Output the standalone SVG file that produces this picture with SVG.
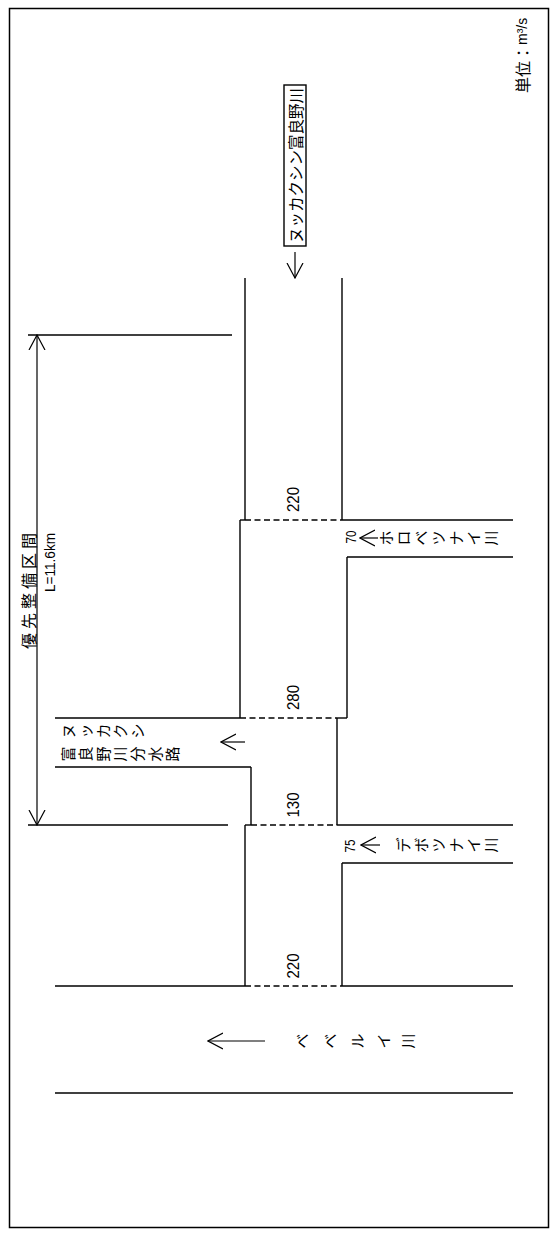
<svg xmlns="http://www.w3.org/2000/svg" width="558" height="1236" viewBox="0 0 558 1236">
<style>
.ln{stroke:#000;stroke-width:1.4;fill:none}
.ds{stroke:#000;stroke-width:1.4;fill:none;stroke-dasharray:6 3.5}
.ar{stroke:#000;stroke-width:1.2;fill:none}
.j{font-family:"Noto Sans CJK JP","Noto Sans CJK SC",sans-serif;font-size:15px;fill:#000;text-anchor:middle;dominant-baseline:central}
.n{font-family:"Liberation Sans",Arial,sans-serif;fill:#000;text-anchor:middle;dominant-baseline:central}
</style>
<defs>
<marker id="ah" viewBox="0 0 16 18" refX="15" refY="9" markerWidth="16" markerHeight="18" markerUnits="userSpaceOnUse" orient="auto-start-reverse">
<path d="M0,1 L15,9 L0,17" fill="none" stroke="#000" stroke-width="1.2"/>
</marker>
</defs>
<rect x="9.5" y="8.5" width="539" height="1219" fill="#fff" stroke="#000" stroke-width="1.5"/>

<g id="unit">
<text class="j" style="font-size:16px;text-anchor:start" transform="translate(522,93) rotate(-90)">単位：<tspan style="font-family:'Liberation Sans',Arial,sans-serif;font-size:14px">m³/s</tspan></text>
</g>

<g id="title-box">
<rect x="284" y="85" width="22" height="161" class="ln"/>
<text class="j" style="font-size:15.5px" transform="translate(295,165.5) rotate(-90)" textLength="155" lengthAdjust="spacing">ヌッカクシン富良野川</text>
</g>

<g id="section-dimension">
<line x1="28" y1="335" x2="232" y2="335" class="ln"/>
<line x1="28" y1="825" x2="228" y2="825" class="ln"/>
<text class="j" style="font-size:16px;text-anchor:end" transform="translate(28,533) rotate(-90)" textLength="116" lengthAdjust="spacing">優先整備区間</text>
<text class="n" style="font-size:14px;text-anchor:end" transform="translate(50,533) rotate(-90)" textLength="59" lengthAdjust="spacingAndGlyphs">L=11.6km</text>
</g>

<g id="seg-upper-220">
<line x1="245" y1="278" x2="245" y2="520" class="ln"/>
<line x1="342" y1="278" x2="342" y2="520" class="ln"/>
<text class="n" style="font-size:17px" transform="translate(293.5,499.5) rotate(-90)" textLength="25" lengthAdjust="spacingAndGlyphs">220</text>
</g>

<g id="trib-horobetsunai">
<line x1="342" y1="520" x2="513" y2="520" class="ln"/>
<line x1="347" y1="557" x2="513" y2="557" class="ln"/>
<text class="n" style="font-size:14px" transform="translate(350.5,537) rotate(-90)" textLength="13" lengthAdjust="spacingAndGlyphs">70</text>
<text class="j" transform="translate(385,538) rotate(-90)">ホ</text>
<text class="j" transform="translate(402.5,538) rotate(-90)">ロ</text>
<text class="j" transform="translate(420,538) rotate(-90)">ベ</text>
<text class="j" transform="translate(437.5,538) rotate(-90)">ツ</text>
<text class="j" transform="translate(455,538) rotate(-90)">ナ</text>
<text class="j" transform="translate(472.5,538) rotate(-90)">イ</text>
<text class="j" transform="translate(490,538) rotate(-90)">川</text>
</g>

<g id="seg-280">
<line x1="240" y1="520" x2="245" y2="520" class="ln"/>
<line x1="240" y1="520" x2="240" y2="718" class="ln"/>
<line x1="347" y1="557" x2="347" y2="718" class="ln"/>
<text class="n" style="font-size:17px" transform="translate(293.5,697.5) rotate(-90)" textLength="25" lengthAdjust="spacingAndGlyphs">280</text>
</g>

<g id="branch-channel">
<line x1="55" y1="718" x2="240" y2="718" class="ln"/>
<line x1="55" y1="767" x2="251" y2="767" class="ln"/>
<text class="j" transform="translate(67.5,731) rotate(-90)">ヌ</text>
<text class="j" transform="translate(84.8,731) rotate(-90)">ッ</text>
<text class="j" transform="translate(102.1,731) rotate(-90)">カ</text>
<text class="j" transform="translate(119.4,731) rotate(-90)">ク</text>
<text class="j" transform="translate(136.7,731) rotate(-90)">シ</text>
<text class="j" transform="translate(67.5,754) rotate(-90)">富</text>
<text class="j" transform="translate(84.8,754) rotate(-90)">良</text>
<text class="j" transform="translate(102.1,754) rotate(-90)">野</text>
<text class="j" transform="translate(119.4,754) rotate(-90)">川</text>
<text class="j" transform="translate(136.7,754) rotate(-90)">分</text>
<text class="j" transform="translate(154,754) rotate(-90)">水</text>
<text class="j" transform="translate(171.3,754) rotate(-90)">路</text>
</g>

<g id="seg-130">
<line x1="337" y1="718" x2="347" y2="718" class="ln"/>
<line x1="337" y1="718" x2="337" y2="825" class="ln"/>
<line x1="251" y1="767" x2="251" y2="825" class="ln"/>
<text class="n" style="font-size:17px" transform="translate(293.5,805) rotate(-90)" textLength="25" lengthAdjust="spacingAndGlyphs">130</text>
</g>

<g id="trib-debotsunai">
<line x1="337" y1="825" x2="513" y2="825" class="ln"/>
<line x1="342" y1="863" x2="513" y2="863" class="ln"/>
<text class="n" style="font-size:14px" transform="translate(350,846) rotate(-90)" textLength="13" lengthAdjust="spacingAndGlyphs">75</text>
<text class="j" transform="translate(402.5,845) rotate(-90)">デ</text>
<text class="j" transform="translate(420,845) rotate(-90)">ボ</text>
<text class="j" transform="translate(437.5,845) rotate(-90)">ツ</text>
<text class="j" transform="translate(455,845) rotate(-90)">ナ</text>
<text class="j" transform="translate(472.5,845) rotate(-90)">イ</text>
<text class="j" transform="translate(490,845) rotate(-90)">川</text>
</g>

<g id="seg-lower-220">
<line x1="245" y1="825" x2="251" y2="825" class="ln"/>
<line x1="245" y1="825" x2="245" y2="986" class="ln"/>
<line x1="342" y1="863" x2="342" y2="986" class="ln"/>
<text class="n" style="font-size:17px" transform="translate(293.5,966) rotate(-90)" textLength="25" lengthAdjust="spacingAndGlyphs">220</text>
</g>

<g id="river-beberui">
<line x1="55" y1="986" x2="245" y2="986" class="ln"/>
<line x1="342" y1="986" x2="513" y2="986" class="ln"/>
<line x1="55" y1="1093" x2="513" y2="1093" class="ln"/>
<text class="j" transform="translate(301.5,1041) rotate(-90)">ベ</text>
<text class="j" transform="translate(329,1041) rotate(-90)">ベ</text>
<text class="j" transform="translate(356,1041) rotate(-90)">ル</text>
<text class="j" transform="translate(382.5,1041) rotate(-90)">イ</text>
<text class="j" transform="translate(407.5,1041) rotate(-90)">川</text>
</g>

<g id="connectors">
<line x1="245" y1="520" x2="342" y2="520" class="ds"/>
<line x1="240" y1="718" x2="337" y2="718" class="ds"/>
<line x1="251" y1="825" x2="337" y2="825" class="ds"/>
<line x1="245" y1="986" x2="342" y2="986" class="ds"/>
<line x1="295" y1="252" x2="295" y2="278" class="ar" marker-end="url(#ah)"/>
<line x1="37" y1="335" x2="37" y2="825" class="ar" marker-start="url(#ah)" marker-end="url(#ah)"/>
<line x1="378" y1="538" x2="360" y2="538" class="ar" marker-end="url(#ah)"/>
<line x1="380" y1="845" x2="361" y2="845" class="ar" marker-end="url(#ah)"/>
<line x1="245" y1="742" x2="221" y2="742" class="ar" marker-end="url(#ah)"/>
<line x1="265" y1="1041" x2="208" y2="1041" class="ar" marker-end="url(#ah)"/>
</g>
</svg>
